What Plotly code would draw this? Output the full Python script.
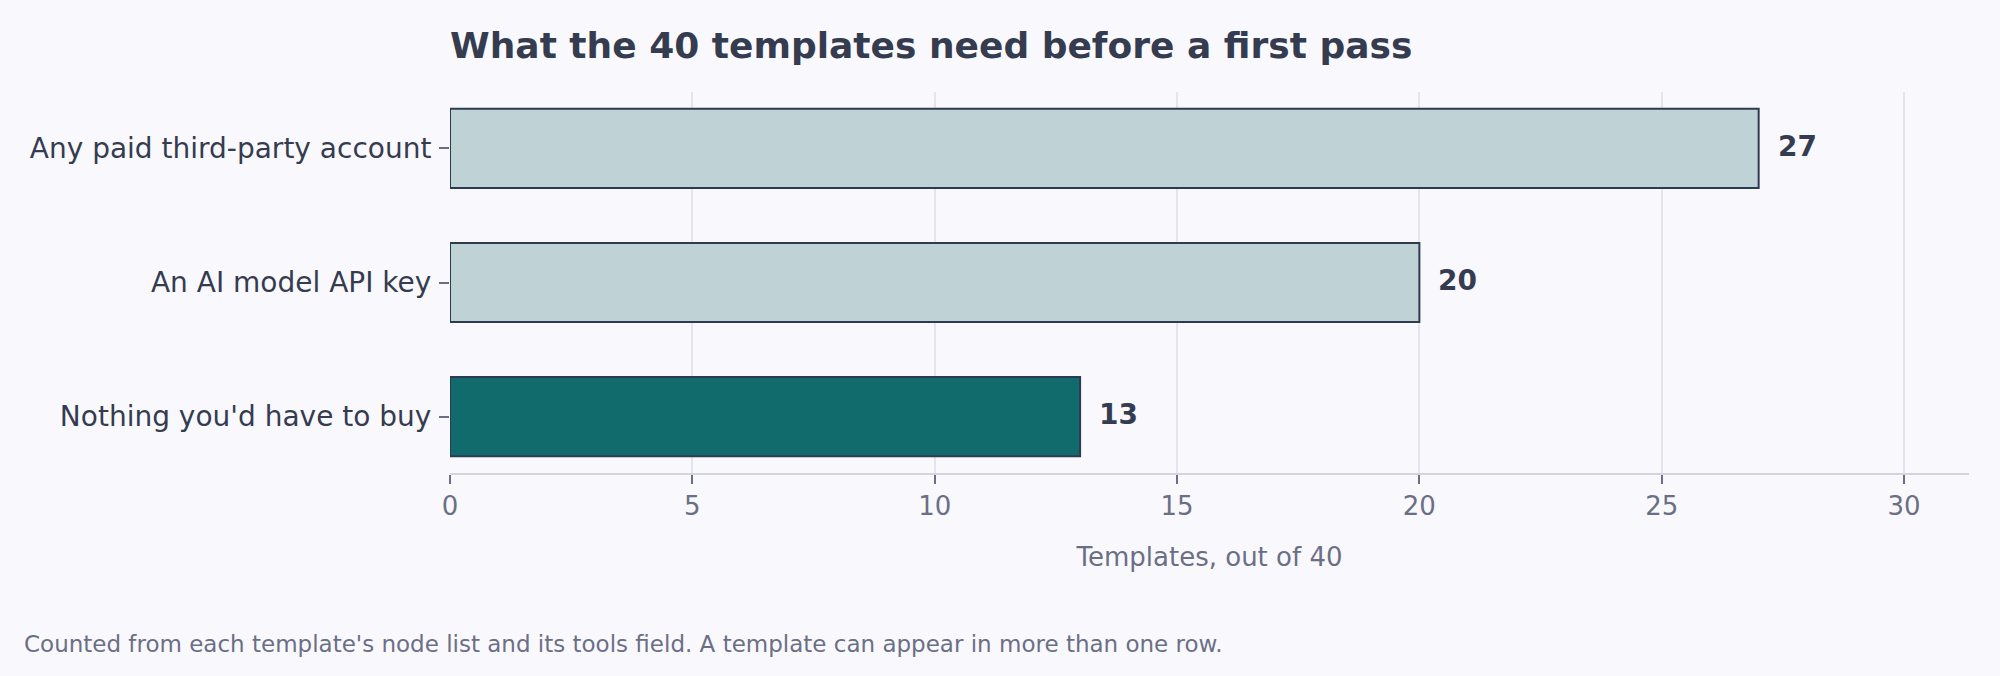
import plotly.graph_objects as go

# data
categories = ["Nothing you'd have to buy", "An AI model API key", "Any paid third-party account"]
counts = [13, 20, 27]
bar_colors = ["#116b6d", "#bfd3d6", "#bfd3d6"]

title_text = "What the 40 templates need before a first pass"
x_title = "Templates, out of 40"
footnote = "Counted from each template's node list and its tools field. A template can appear in more than one row."

ink = "#353c50"
muted = "#6b6f86"
bg = "#f9f9fd"

fig = go.Figure()

fig.add_trace(go.Bar(
    x=counts,
    y=categories,
    orientation="h",
    width=0.59,
    marker=dict(color=bar_colors, line=dict(color="#2e3a50", width=2)),
    hoverinfo="x+y",
))

# value labels just past the bar ends
for c, v in zip(categories, counts):
    fig.add_annotation(
        x=v, y=c, text="<b>%d</b>" % v,
        xanchor="left", xshift=17, yshift=2, showarrow=False,
        font=dict(size=28, color=ink),
    )

fig.add_annotation(
    x=0, y=0, xref="paper", yref="paper",
    text=footnote, showarrow=False,
    xanchor="left", yanchor="middle",
    xshift=-428, yshift=-171,
    font=dict(size=23, color=muted),
)

fig.update_layout(
    width=2000, height=676,
    paper_bgcolor=bg, plot_bgcolor=bg,
    margin=dict(l=450, r=31, t=92, b=203),
    font=dict(family="DejaVu Sans", color=ink),
    title=dict(
        text="<b>%s</b>" % title_text,
        x=450 / 2000, xanchor="left",
        y=1 - 45 / 676, yanchor="middle",
        font=dict(size=36, color=ink),
    ),
    showlegend=False,
    bargap=0.41,
)

fig.update_xaxes(
    range=[0, 31.34],
    tickvals=[0, 5, 10, 15, 20, 25, 30],
    showgrid=True, gridcolor="#e4e4ec", gridwidth=1.5,
    zeroline=False,
    showline=True, linecolor="#d4d4e0", linewidth=2,
    ticks="outside", ticklen=9, tickwidth=2, tickcolor=muted,
    tickfont=dict(size=26, color=muted),
    title=dict(text=x_title, font=dict(size=26, color=muted), standoff=28),
)

fig.update_yaxes(
    range=[-0.42, 2.42],
    showgrid=False, zeroline=False, showline=False,
    ticks="outside", ticklen=10, tickwidth=2, tickcolor=muted,
    tickfont=dict(size=28, color=ink),
    ticklabelstandoff=2,
)

# the page's default body margin would push the figure off its origin
fig.write_html("out.html", config={"displayModeBar": False},
               post_script="document.body.style.margin='0';")
